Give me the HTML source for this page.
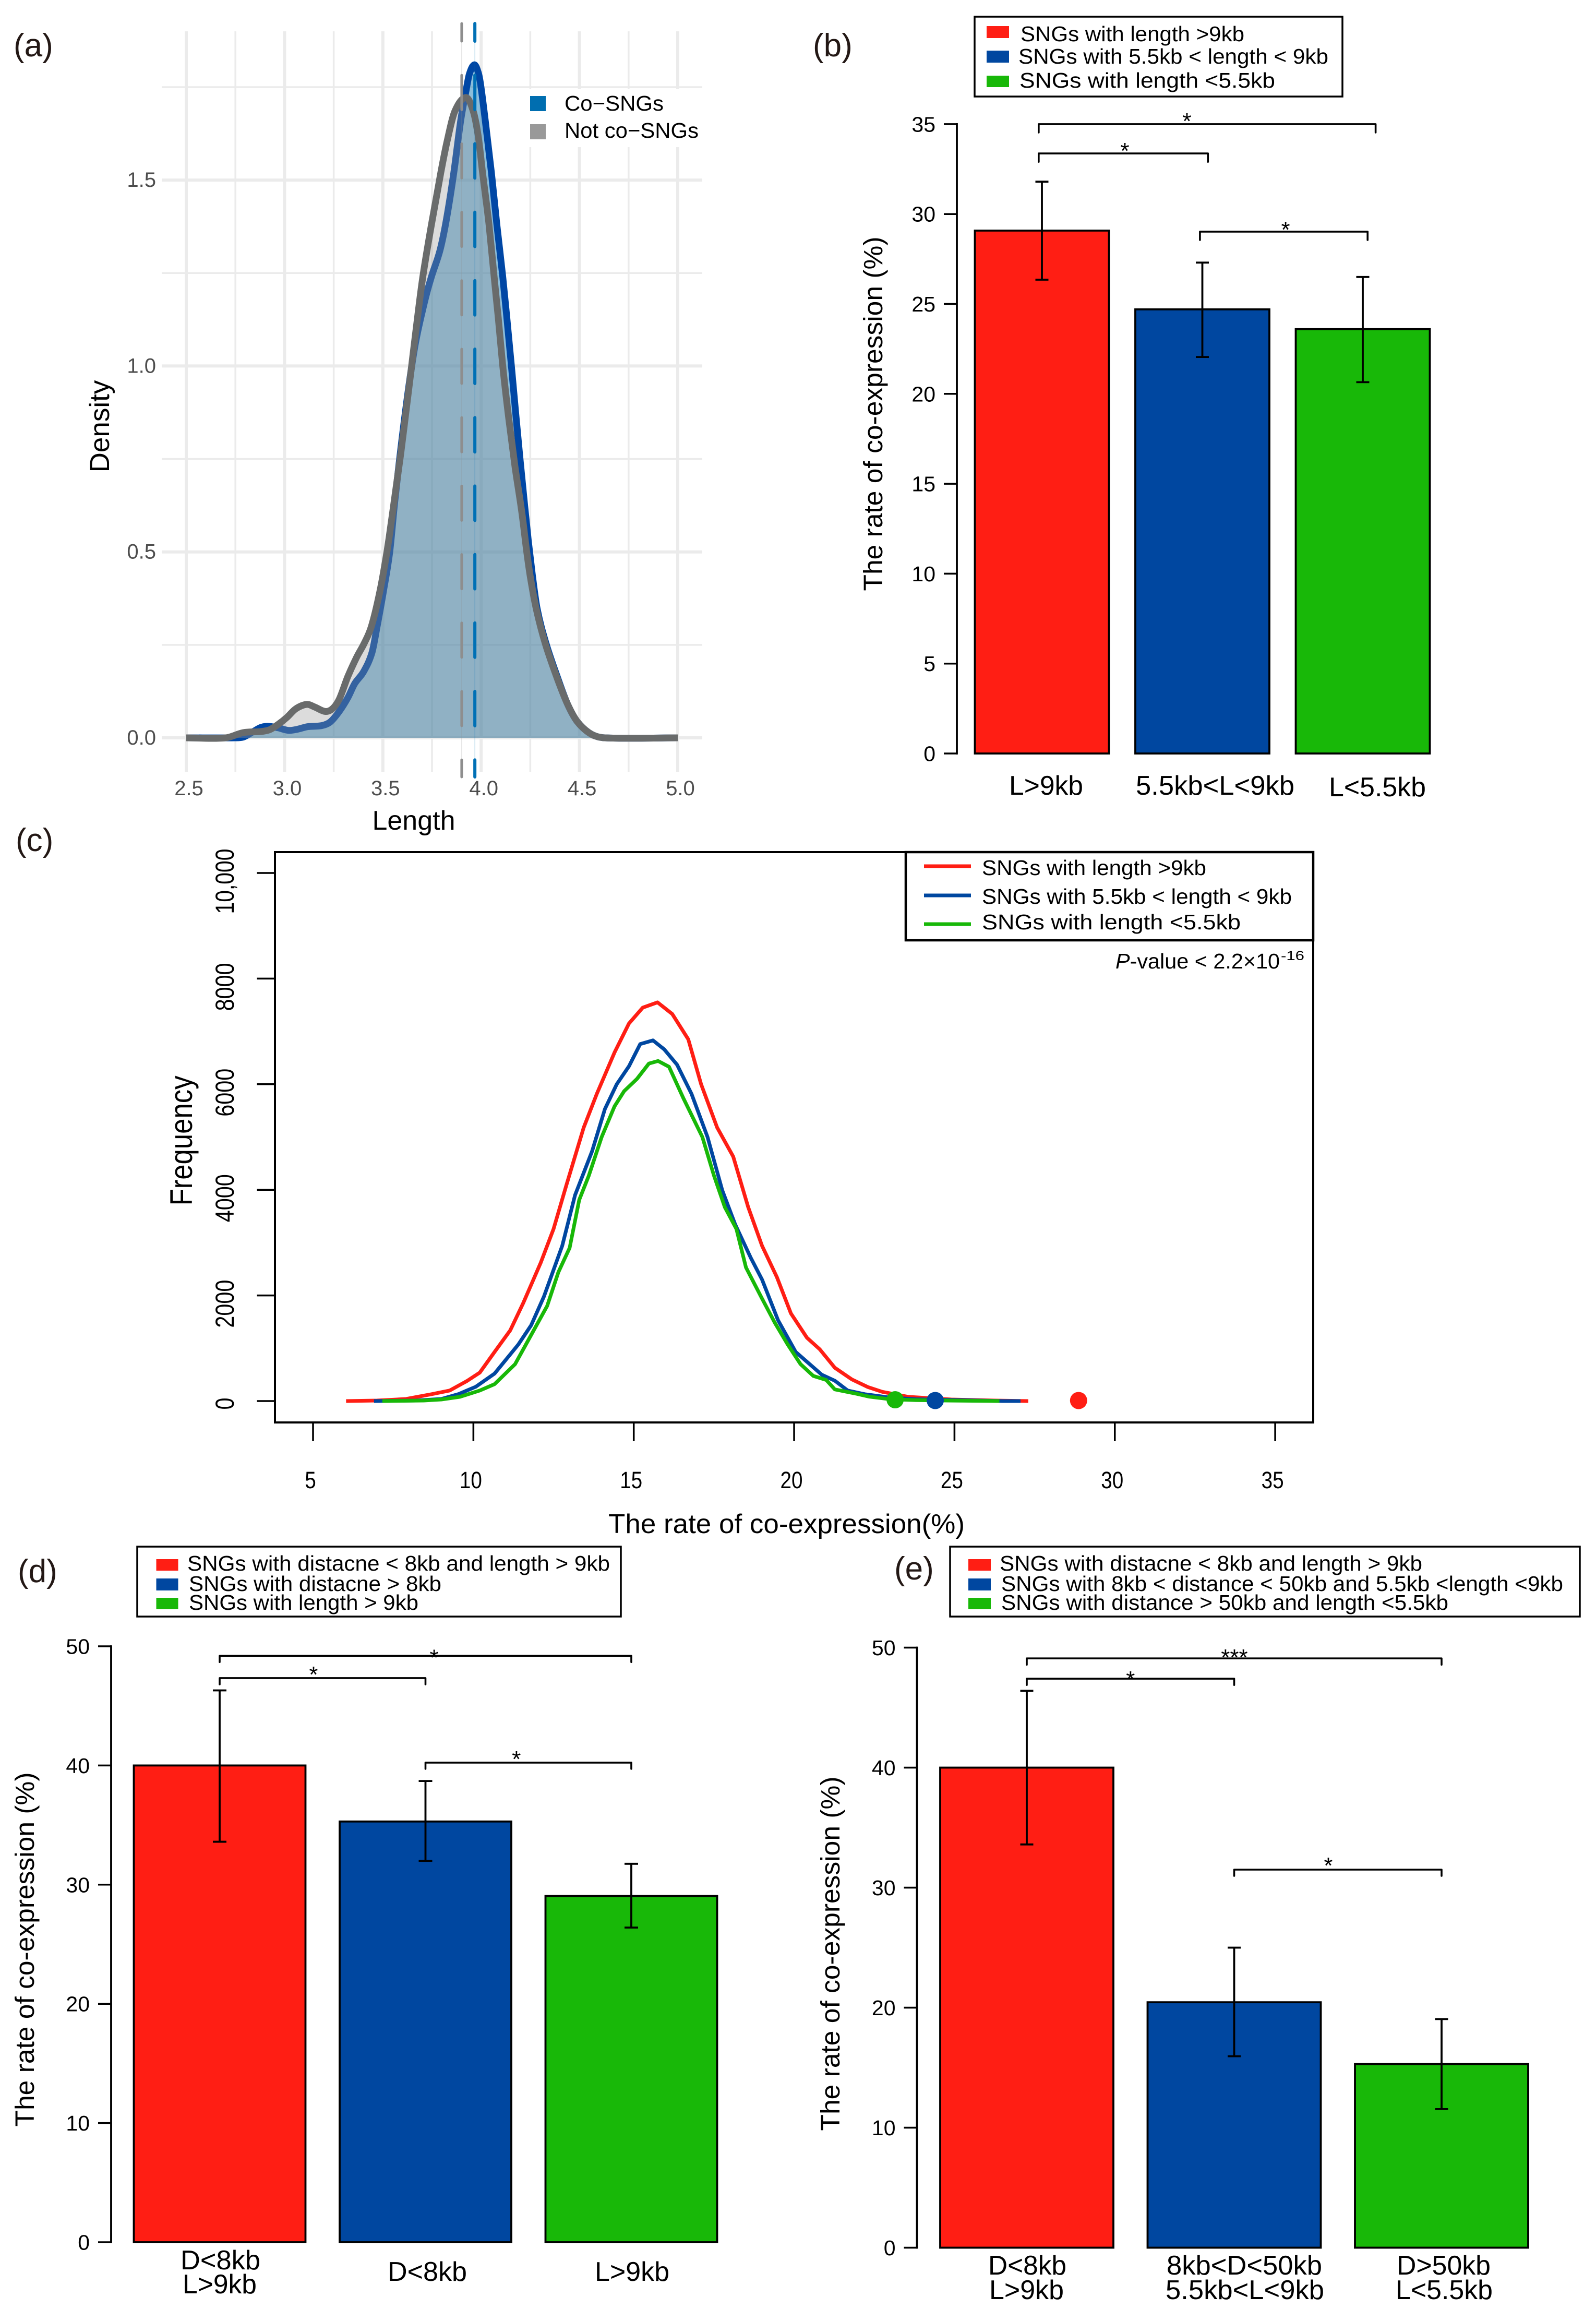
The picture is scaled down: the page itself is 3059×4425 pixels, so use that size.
<!DOCTYPE html>
<html lang="en">
<head>
<meta charset="utf-8">
<title>SNG co-expression figure</title>
<style>
html,body{margin:0;padding:0;background:#fff;}
svg{display:block;}
text{font-family:"Liberation Sans",Arial,sans-serif;fill:#000;}
.plabel{font-size:62px;fill:#231815;}
.leg{font-size:41px;}
.cat{font-size:52px;}
.ytitle{font-size:51px;text-anchor:middle;}
</style>
</head>
<body>
<svg id="figure" xmlns="http://www.w3.org/2000/svg" width="3059" height="4425" viewBox="0 0 3059 4425">
<rect x="0" y="0" width="3059" height="4425" fill="#fff"/>

<!-- Panel a -->
<g id="panel-a">
  <g id="a-grid"></g>
  <rect x="1004" y="171" width="342" height="111" fill="#fff"/>
  <g id="a-marks"></g>
  <g id="a-ticks"></g>
  <rect x="1016" y="184" width="30" height="29" fill="#006eb0"/>
  <rect x="1016" y="238" width="30" height="29" fill="#999999"/>
  <text x="1082" y="212" font-size="41" textLength="190" lengthAdjust="spacingAndGlyphs">Co−SNGs</text>
  <text x="1082" y="264" font-size="41" textLength="257" lengthAdjust="spacingAndGlyphs">Not co−SNGs</text>
  <text x="793" y="1590" font-size="52" text-anchor="middle">Length</text>
  <text transform="translate(209 817) rotate(-90)" font-size="53" text-anchor="middle">Density</text>
  <text class="plabel" x="26" y="108">(a)</text>
</g>

<!-- Panel b -->
<g id="panel-b">
  <g id="b-marks"></g>
  <rect x="1868" y="32" width="705" height="153" fill="#fff" stroke="#000" stroke-width="3.5"/>
  <rect x="1891" y="50" width="43" height="23" fill="#ff1e14"/>
  <rect x="1891" y="97" width="43" height="23" fill="#0047a0"/>
  <rect x="1891" y="145" width="43" height="22" fill="#18b808"/>
  <text class="leg" x="1956" y="79" textLength="429" lengthAdjust="spacingAndGlyphs">SNGs with length &gt;9kb</text>
  <text class="leg" x="1952" y="122" textLength="594" lengthAdjust="spacingAndGlyphs">SNGs with 5.5kb &lt; length &lt; 9kb</text>
  <text class="leg" x="1954" y="168" textLength="490" lengthAdjust="spacingAndGlyphs">SNGs with length &lt;5.5kb</text>
  <text class="cat" x="1934" y="1523" textLength="142" lengthAdjust="spacingAndGlyphs">L&gt;9kb</text>
  <text class="cat" x="2177" y="1523" textLength="304" lengthAdjust="spacingAndGlyphs">5.5kb&lt;L&lt;9kb</text>
  <text class="cat" x="2547" y="1526" textLength="186" lengthAdjust="spacingAndGlyphs">L&lt;5.5kb</text>
  <text class="ytitle" transform="translate(1691 793) rotate(-90)" textLength="679" lengthAdjust="spacingAndGlyphs">The rate of co-expression (%)</text>
  <text class="plabel" x="1558" y="108">(b)</text>
</g>

<!-- Panel c -->
<g id="panel-c">
  <rect x="527" y="1633" width="1990" height="1093" fill="#fff" stroke="#000" stroke-width="4"/>
  <g id="c-marks"></g>
  <rect x="1736" y="1633" width="781" height="169" fill="#fff" stroke="#000" stroke-width="4.5"/>
  <line x1="1771" x2="1861" y1="1660" y2="1660" stroke="#ff1e14" stroke-width="7"/>
  <line x1="1771" x2="1861" y1="1716" y2="1716" stroke="#0047a0" stroke-width="7"/>
  <line x1="1771" x2="1861" y1="1771" y2="1771" stroke="#18b808" stroke-width="7"/>
  <text class="leg" x="1882" y="1677" textLength="430" lengthAdjust="spacingAndGlyphs">SNGs with length &gt;9kb</text>
  <text class="leg" x="1882" y="1732" textLength="594" lengthAdjust="spacingAndGlyphs">SNGs with 5.5kb &lt; length &lt; 9kb</text>
  <text class="leg" x="1882" y="1781" textLength="496" lengthAdjust="spacingAndGlyphs">SNGs with length &lt;5.5kb</text>
  <text x="2138" y="1856" font-size="41" textLength="315" lengthAdjust="spacingAndGlyphs"><tspan font-style="italic">P</tspan>-value &lt; 2.2×10</text>
  <text x="2455" y="1840" font-size="25" textLength="45" lengthAdjust="spacingAndGlyphs">-16</text>
  <text x="1166" y="2938" font-size="52" textLength="683" lengthAdjust="spacingAndGlyphs">The rate of co-expression(%)</text>
  <text transform="translate(368 2186) rotate(-90)" font-size="60" text-anchor="middle" textLength="249" lengthAdjust="spacingAndGlyphs">Frequency</text>
  <text class="plabel" x="30" y="1631">(c)</text>
</g>

<!-- Panel d -->
<g id="panel-d">
  <g id="d-marks"></g>
  <rect x="263" y="2964" width="927" height="134" fill="#fff" stroke="#000" stroke-width="3.5"/>
  <rect x="299.500" y="2988" width="42" height="22" fill="#ff1e14"/>
  <rect x="299.500" y="3025" width="42" height="23" fill="#0047a0"/>
  <rect x="299.500" y="3062" width="42" height="22" fill="#18b808"/>
  <text class="leg" x="359" y="3010" textLength="810" lengthAdjust="spacingAndGlyphs">SNGs with distacne &lt; 8kb and length &gt; 9kb</text>
  <text class="leg" x="362" y="3049" textLength="484" lengthAdjust="spacingAndGlyphs">SNGs with distacne &gt; 8kb</text>
  <text class="leg" x="362" y="3085" textLength="440" lengthAdjust="spacingAndGlyphs">SNGs with length &gt; 9kb</text>
  <text class="cat" x="346" y="4349" textLength="153" lengthAdjust="spacingAndGlyphs">D&lt;8kb</text>
  <text class="cat" x="350" y="4395" textLength="142" lengthAdjust="spacingAndGlyphs">L&gt;9kb</text>
  <text class="cat" x="743" y="4371" textLength="152" lengthAdjust="spacingAndGlyphs">D&lt;8kb</text>
  <text class="cat" x="1140" y="4371" textLength="143" lengthAdjust="spacingAndGlyphs">L&gt;9kb</text>
  <text class="ytitle" transform="translate(65 3736) rotate(-90)" textLength="679" lengthAdjust="spacingAndGlyphs">The rate of co-expression (%)</text>
  <text class="plabel" x="34" y="3032">(d)</text>
</g>

<!-- Panel e -->
<g id="panel-e">
  <g id="e-marks"></g>
  <rect x="1821" y="2964" width="1207" height="134" fill="#fff" stroke="#000" stroke-width="3.5"/>
  <rect x="1856" y="2988" width="43" height="22" fill="#ff1e14"/>
  <rect x="1856" y="3025" width="43" height="23" fill="#0047a0"/>
  <rect x="1856" y="3062" width="43" height="22" fill="#18b808"/>
  <text class="leg" x="1916" y="3010" textLength="810" lengthAdjust="spacingAndGlyphs">SNGs with distacne &lt; 8kb and length &gt; 9kb</text>
  <text class="leg" x="1919" y="3049" textLength="1077" lengthAdjust="spacingAndGlyphs">SNGs with 8kb &lt; distance &lt; 50kb and 5.5kb &lt;length &lt;9kb</text>
  <text class="leg" x="1919" y="3085" textLength="857" lengthAdjust="spacingAndGlyphs">SNGs with distance &gt; 50kb and length &lt;5.5kb</text>
  <text class="cat" x="1894" y="4359" textLength="150" lengthAdjust="spacingAndGlyphs">D&lt;8kb</text>
  <text class="cat" x="1896" y="4406" textLength="143" lengthAdjust="spacingAndGlyphs">L&gt;9kb</text>
  <text class="cat" x="2236" y="4359" textLength="298" lengthAdjust="spacingAndGlyphs">8kb&lt;D&lt;50kb</text>
  <text class="cat" x="2234" y="4406" textLength="304" lengthAdjust="spacingAndGlyphs">5.5kb&lt;L&lt;9kb</text>
  <text class="cat" x="2677" y="4359" textLength="180" lengthAdjust="spacingAndGlyphs">D&gt;50kb</text>
  <text class="cat" x="2675" y="4406" textLength="186" lengthAdjust="spacingAndGlyphs">L&lt;5.5kb</text>
  <text class="ytitle" transform="translate(1609 3744) rotate(-90)" textLength="679" lengthAdjust="spacingAndGlyphs">The rate of co-expression (%)</text>
  <text class="plabel" x="1714" y="3027">(e)</text>
</g>
</svg>

<script>
// ---------- Panel a data ----------
const aXTicks = [2.5, 3.0, 3.5, 4.0, 4.5, 5.0];
const aYTicks = [0.0, 0.5, 1.0, 1.5];
const aXMinor = [2.75, 3.25, 3.75, 4.25, 4.75];
const aYMinor = [0.25, 0.75, 1.25, 1.75];
const aCoLength = [2.5,2.747,2.79,2.835,2.88,2.914,2.967,3.02,3.065,3.118,3.19,3.233,3.278,3.322,3.357,3.402,3.445,3.471,3.503,3.535,3.56,3.612,3.662,3.711,3.747,3.79,3.822,3.861,3.896,3.923,3.94,3.965,3.985,3.998,4.021,4.052,4.08,4.11,4.132,4.154,4.177,4.198,4.22,4.24,4.26,4.285,4.33,4.39,4.44,4.49,4.56,4.63,5.0];
const aCoDensity = [0,0,0.002,0.015,0.028,0.031,0.027,0.02,0.023,0.03,0.033,0.043,0.071,0.108,0.146,0.178,0.23,0.30,0.394,0.50,0.632,0.866,1.05,1.17,1.24,1.31,1.39,1.52,1.66,1.74,1.785,1.81,1.79,1.755,1.66,1.521,1.38,1.24,1.123,1.0,0.866,0.749,0.632,0.53,0.44,0.347,0.254,0.16,0.09,0.043,0.01,0,0];
const aNotLength = [2.5,2.7,2.79,2.88,2.925,2.967,3.012,3.057,3.113,3.153,3.206,3.243,3.278,3.322,3.366,3.405,3.442,3.485,3.521,3.543,3.59,3.617,3.644,3.667,3.702,3.747,3.795,3.827,3.866,3.923,3.96,3.986,4.007,4.04,4.066,4.087,4.11,4.14,4.172,4.206,4.232,4.251,4.281,4.326,4.387,4.44,4.49,4.56,4.63,5.0];
const aNotDensity = [0,0,0.014,0.017,0.022,0.036,0.055,0.078,0.09,0.083,0.071,0.078,0.104,0.165,0.216,0.254,0.30,0.394,0.501,0.581,0.76,0.875,0.99,1.09,1.235,1.38,1.521,1.605,1.685,1.722,1.685,1.615,1.521,1.38,1.24,1.13,1.0,0.86,0.73,0.61,0.50,0.43,0.345,0.254,0.16,0.09,0.043,0.01,0,0];
const aMeans = [3.901, 3.968];

// ---------- Panel b data ----------
const bValues = [29.08, 24.7, 23.6];
const bErrHigh = [31.8, 27.3, 26.5];
const bErrLow = [26.35, 22.05, 20.65];
const bYTicks = [0, 5, 10, 15, 20, 25, 30, 35];

// ---------- Panel c data ----------
const cXTicks = [5, 10, 15, 20, 25, 30, 35];
const cYTicks = [0, 2000, 4000, 6000, 8000, 10000];
const cYTickLabels = ['0', '2000', '4000', '6000', '8000', '10,000'];
const cLongRate = [6.03,7,7.9,8.7,9.26,9.8,10.2,10.66,11.15,11.55,12.1,12.5,12.9,13.44,13.85,14.4,14.85,15.28,15.74,16.2,16.7,17.1,17.6,18.1,18.57,19,19.46,19.9,20.4,20.8,21.27,21.8,22.3,22.75,23.56,24.9,26.25,27.3];
const cLongFreq = [0,10,40,130,200,380,540,930,1340,1850,2620,3260,4090,5180,5820,6600,7150,7450,7550,7330,6850,6000,5180,4630,3670,2940,2350,1660,1200,980,630,410,265,175,80,30,10,0];
const cMedRate = [6.9,8.2,9,9.53,10.07,10.66,11.4,11.8,12.2,12.77,13.17,13.7,14.1,14.47,14.85,15.2,15.6,15.95,16.35,16.8,17.3,17.76,18.16,18.65,19,19.5,20.05,20.86,21.27,21.67,22.2,23,23.8,25.2,26.5,27.06];
const cMedFreq = [0,10,40,130,270,520,1070,1435,1980,2940,3900,4730,5530,6000,6340,6760,6830,6660,6370,5820,5000,3990,3350,2710,2300,1530,930,500,385,200,130,65,35,18,0,0];
const cShortRate = [7.16,8.45,9,9.58,10.2,10.66,11.3,11.8,12.3,12.65,13,13.3,13.6,14,14.4,14.7,15.1,15.47,15.76,16.1,16.55,17.14,17.5,17.84,18.2,18.5,19,19.4,19.8,20.2,20.6,21,21.27,21.95,22.35,23,23.8,24.9,26.4];
const cShortFreq = [0,10,30,80,200,320,700,1250,1800,2440,2900,3810,4270,5000,5580,5870,6100,6390,6440,6330,5730,5000,4270,3670,3260,2530,1940,1480,1070,700,475,400,220,137,82,35,18,9,0];
const cObservedRate = [28.87, 24.4, 23.15];
const cObservedFreq = [10, 10, 25];

// ---------- Panel d data ----------
const dValues = [40, 35.3, 29.05];
const dErrHigh = [46.3, 38.7, 31.75];
const dErrLow = [33.6, 32, 26.4];
const dYTicks = [0, 10, 20, 30, 40, 50];

// ---------- Panel e data ----------
const eValues = [40, 20.45, 15.3];
const eErrHigh = [46.4, 25, 19.05];
const eErrLow = [33.6, 15.95, 11.55];
const eYTicks = [0, 10, 20, 30, 40, 50];

const barColors = ['#ff1e14', '#0047a0', '#18b808'];
const SVGNS = 'http://www.w3.org/2000/svg';

function mk(parent, tag, attrs, text) {
  const n = document.createElementNS(SVGNS, tag);
  for (const k in attrs) n.setAttribute(k, attrs[k]);
  if (text !== undefined) n.textContent = text;
  parent.appendChild(n);
  return n;
}

// Smooth path through points (Hermite tangents to Bezier)
function smoothPath(pts) {
  let d = 'M' + pts[0][0].toFixed(1) + ' ' + pts[0][1].toFixed(1);
  for (let i = 0; i < pts.length - 1; i++) {
    const p0 = pts[Math.max(i - 1, 0)], p1 = pts[i], p2 = pts[i + 1], p3 = pts[Math.min(i + 2, pts.length - 1)];
    const dx = p2[0] - p1[0];
    const t1 = (p2[1] - p0[1]) / Math.max(p2[0] - p0[0], 0.01);
    const t2 = (p3[1] - p1[1]) / Math.max(p3[0] - p1[0], 0.01);
    d += 'C' + (p1[0] + dx / 3).toFixed(1) + ' ' + (p1[1] + t1 * dx / 3).toFixed(1) + ' ' +
         (p2[0] - dx / 3).toFixed(1) + ' ' + (p2[1] - t2 * dx / 3).toFixed(1) + ' ' +
         p2[0].toFixed(1) + ' ' + p2[1].toFixed(1);
  }
  return d;
}

// ---------- Panel a ----------
(function drawA() {
  const ax = v => 357 + (v - 2.5) * 376.8;
  const ay = v => 1414 - v * 712.6;
  const grid = document.getElementById('a-grid');
  const marks = document.getElementById('a-marks');
  const ticks = document.getElementById('a-ticks');
  const GRID = '#ebebeb';

  aYMinor.forEach(v => {
    const l = mk(grid, 'line', {x1: 310, x2: 1346, y1: ay(v), y2: ay(v), stroke: GRID, 'stroke-width': 3.5});
    
    
  });
  aXMinor.forEach(v => {
    const l = mk(grid, 'line', {x1: ax(v), x2: ax(v), y1: 60, y2: 1479, stroke: GRID, 'stroke-width': 3.5});
    
    
  });
  aYTicks.forEach(v => {
    const l = mk(grid, 'line', {x1: 310, x2: 1346, y1: ay(v), y2: ay(v), stroke: GRID, 'stroke-width': 6});
    
    
    const t = mk(ticks, 'text', {x: 299, y: ay(v) + 13, 'text-anchor': 'end', 'font-size': 40, style: 'fill:#4d4d4d'}, v.toFixed(1));
    
    
  });
  aXTicks.forEach(v => {
    const l = mk(grid, 'line', {x1: ax(v), x2: ax(v), y1: 60, y2: 1479, stroke: GRID, 'stroke-width': 6});
    
    
    const t = mk(ticks, 'text', {x: ax(v) + 5, y: 1524, 'text-anchor': 'middle', 'font-size': 40, style: 'fill:#4d4d4d'}, v.toFixed(1));
    
    
  });

  const coPts = aCoLength.map((v, i) => [ax(v), ay(aCoDensity[i])]);
  const notPts = aNotLength.map((v, i) => [ax(v), ay(aNotDensity[i])]);
  const coLine = smoothPath(coPts);
  const notLine = smoothPath(notPts);
  const close = (pts, d) => d + 'L' + pts[pts.length - 1][0] + ' ' + ay(0) + 'L' + pts[0][0] + ' ' + ay(0) + 'Z';

  const coFill = mk(marks, 'path', {d: close(coPts, coLine), fill: '#006eb0', 'fill-opacity': 0.45});
  
  
  const coStroke = mk(marks, 'path', {d: coLine, fill: 'none', stroke: '#0047a5', 'stroke-width': 13, 'stroke-linejoin': 'round'});
  
  
  const notFill = mk(marks, 'path', {d: close(notPts, notLine), fill: '#999999', 'fill-opacity': 0.34});
  
  
  const notStroke = mk(marks, 'path', {d: notLine, fill: 'none', stroke: '#696b6b', 'stroke-width': 13, 'stroke-linejoin': 'round'});
  
  

  const meanColors = ['#8e8e8e', '#0070b5'];
  const meanWidths = [5, 6];
  aMeans.forEach((v, i) => {
    const thin = mk(marks, 'line', {x1: ax(v), x2: ax(v), y1: 45, y2: 1489, stroke: meanColors[i], 'stroke-width': 1.2, 'stroke-opacity': 0.3});
    
    
    const dash = mk(marks, 'line', {x1: ax(v), x2: ax(v), y1: 45, y2: 1489, stroke: meanColors[i], 'stroke-width': meanWidths[i], 'stroke-linecap': 'round', 'stroke-dasharray': '66 65.2', 'stroke-dashoffset': 32});
    
    
  });
})();

// ---------- Bar panels ----------
function barPanel(id, cfg, values, hi, lo, yTicks) {
  const g = document.getElementById(id);
  const y = v => cfg.y0 - v * cfg.perUnit;
  const xc = i => cfg.first + i * cfg.step;

  const axisLine = mk(g, 'line', {x1: cfg.axisX, x2: cfg.axisX, y1: y(yTicks[yTicks.length - 1]), y2: y(0), stroke: '#000', 'stroke-width': 3.8, 'stroke-linecap': 'square'});
  
  
  yTicks.forEach(v => {
    const t = mk(g, 'line', {x1: cfg.axisX - 25, x2: cfg.axisX, y1: y(v), y2: y(v), stroke: '#000', 'stroke-width': 3.5});
    
    
    const l = mk(g, 'text', {x: cfg.axisX - 41, y: y(v) + 14.5, 'text-anchor': 'end', 'font-size': 41}, String(v));
    
    
  });
  values.forEach((v, i) => {
    const b = mk(g, 'rect', {x: xc(i) - cfg.barW / 2, y: y(v), width: cfg.barW, height: y(0) - y(v), fill: barColors[i], stroke: '#000', 'stroke-width': 3.8});
    
    
    const e = mk(g, 'path', {d: 'M' + xc(i) + ' ' + y(hi[i]) + 'V' + y(lo[i]) + 'M' + (xc(i) - cfg.cap) + ' ' + y(hi[i]) + 'H' + (xc(i) + cfg.cap) + 'M' + (xc(i) - cfg.cap) + ' ' + y(lo[i]) + 'H' + (xc(i) + cfg.cap), fill: 'none', stroke: '#000', 'stroke-width': 3.8});
    
    
  });
  return function bracket(from, to, level, starAt, lift, stars) {
    const yb = y(level);
    const p = mk(g, 'path', {d: 'M' + xc(from) + ' ' + (yb + cfg.drop) + 'V' + yb + 'H' + xc(to) + 'V' + (yb + cfg.drop), fill: 'none', stroke: '#000', 'stroke-width': 3.6, 'stroke-linecap': 'round', 'stroke-linejoin': 'round'});
    
    
    const s = mk(g, 'text', {x: xc(starAt), y: yb - lift + 25, 'text-anchor': 'middle', 'font-size': 44}, stars);
    
    
  };
}

const bracketB = barPanel('b-marks', {y0: 1444, perUnit: 34.46, first: 1997, step: 307.5, barW: 257, axisX: 1834, cap: 12.5, drop: 16}, bValues, bErrHigh, bErrLow, bYTicks);
bracketB(-0.02, 2.08, 35, 0.904, 16, '*');
bracketB(-0.02, 1.035, 33.37, 0.517, 15, '*');
bracketB(0.985, 2.03, 29.02, 1.519, 14, '*');

const bracketD = barPanel('d-marks', {y0: 4297, perUnit: 22.84, first: 421, step: 394.5, barW: 329, axisX: 213, cap: 13, drop: 12}, dValues, dErrHigh, dErrLow, dYTicks);
bracketD(0, 2, 49.2, 1.042, 7, '*');
bracketD(0, 1, 47.33, 0.456, 17, '*');
bracketD(1, 2, 40.24, 1.442, 17, '*');

const bracketE = barPanel('e-marks', {y0: 4307.5, perUnit: 23.0, first: 1968, step: 397.5, barW: 332, axisX: 1757.5, cap: 12.5, drop: 12}, eValues, eErrHigh, eErrLow, eYTicks);
bracketE(0, 2, 49.1, 1.001, 12, '***');
bracketE(0, 1, 47.41, 0.5, 9, '*');
bracketE(1, 2, 31.5, 1.454, 18, '*');

// ---------- Panel c ----------
(function drawC() {
  const g = document.getElementById('c-marks');
  const cx = v => 600 + (v - 5) * 61.47;
  const cy = v => 2685 - v * 0.1012;

  cXTicks.forEach(v => {
    const t = mk(g, 'line', {x1: cx(v), x2: cx(v), y1: 2726, y2: 2762, stroke: '#000', 'stroke-width': 3.5});
    
    
    const str = String(v);
    const l = mk(g, 'text', {x: cx(v) - 5, y: 2852, 'text-anchor': 'middle', 'font-size': 45, textLength: str.length * 21.5, lengthAdjust: 'spacingAndGlyphs'}, str);
    
    
  });
  cYTicks.forEach((v, i) => {
    const t = mk(g, 'line', {x1: 492.5, x2: 527, y1: cy(v), y2: cy(v), stroke: '#000', 'stroke-width': 3.5});
    
    
    const str = cYTickLabels[i];
    const shift = str.length > 1 ? 16 : 5;
    const l = mk(g, 'text', {transform: 'translate(448 ' + (cy(v) + shift) + ') rotate(-90)', 'text-anchor': 'middle', 'font-size': 50, textLength: Math.round(str.replace(',', '').length * 23 + (str.indexOf(',') >= 0 ? 10 : 0)), lengthAdjust: 'spacingAndGlyphs'}, str);
    
    
  });

  const toPoints = (xs, ys) => xs.map((v, i) => cx(v).toFixed(1) + ',' + cy(ys[i]).toFixed(1)).join(' ');
  const long = mk(g, 'polyline', {points: toPoints(cLongRate, cLongFreq), fill: 'none', stroke: barColors[0], 'stroke-width': 7, 'stroke-linejoin': 'round'});
  
  
  const med = mk(g, 'polyline', {points: toPoints(cMedRate, cMedFreq), fill: 'none', stroke: barColors[1], 'stroke-width': 7, 'stroke-linejoin': 'round'});
  
  
  const short = mk(g, 'polyline', {points: toPoints(cShortRate, cShortFreq), fill: 'none', stroke: barColors[2], 'stroke-width': 7, 'stroke-linejoin': 'round'});
  
  

  cObservedRate.forEach((v, i) => {
    const d = mk(g, 'circle', {cx: cx(v), cy: cy(cObservedFreq[i]), r: 16.5, fill: barColors[i]});
    
    
  });
})();
</script>
</body>
</html>
